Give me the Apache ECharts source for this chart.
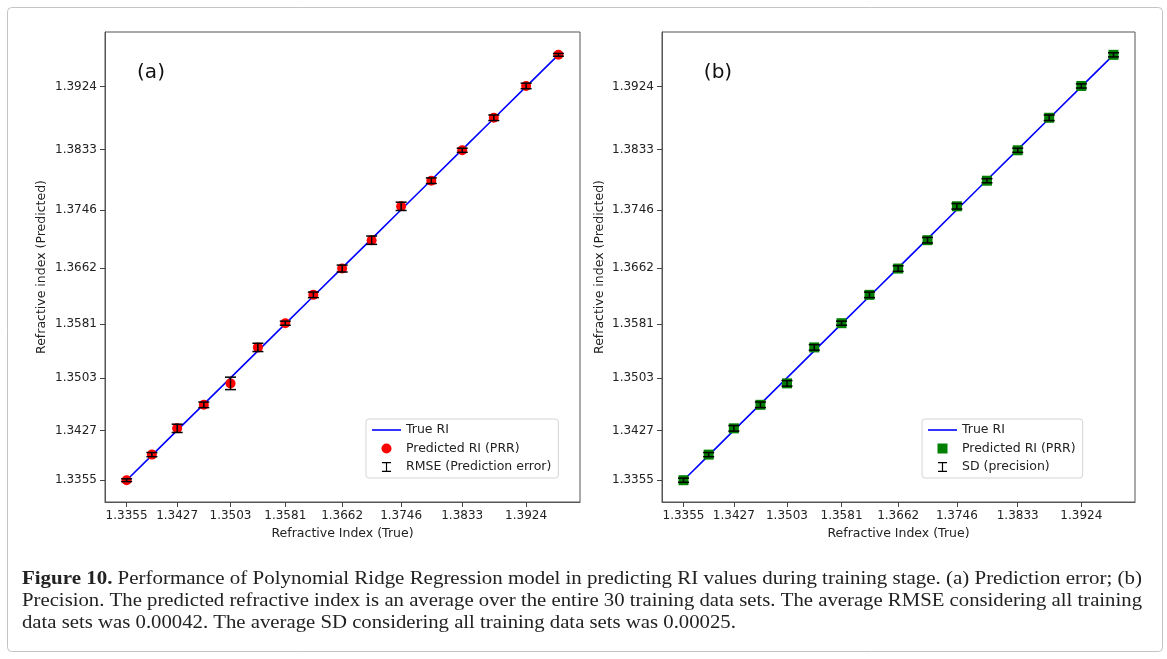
<!DOCTYPE html>
<html>
<head>
<meta charset="utf-8">
<title>Figure 10</title>
<script src="https://cdn.jsdelivr.net/npm/echarts@6/dist/echarts.min.js"></script>
<style>
  html, body { margin: 0; padding: 0; background: #fff; }
  #chart { width: 1167px; height: 659px; }
</style>
</head>
<body>
<div id="chart"></div>
<script>
// tick values used on both axes of both panels
const tickValues = [1.3355, 1.3427, 1.3503, 1.3581, 1.3662, 1.3746, 1.3833, 1.3924];

// true refractive index of the 16 training samples
const trueRI = [1.3355, 1.3391, 1.3427, 1.3465, 1.3503, 1.3542, 1.3581, 1.3621,
                1.3662, 1.3704, 1.3746, 1.3789, 1.3833, 1.3878, 1.3924, 1.3970];
// mean predicted RI (PRR), same in both panels
const predictedRI = [1.3355, 1.3392, 1.3430, 1.3464, 1.3495, 1.3547, 1.3582, 1.3623,
                     1.3661, 1.3702, 1.3751, 1.3788, 1.3832, 1.3879, 1.3925, 1.3970];
// panel (a): RMSE (prediction error)
const rmse = [0.0002, 0.0003, 0.0006, 0.0004, 0.0009, 0.0006, 0.0003, 0.0004,
              0.0005, 0.0006, 0.0006, 0.0004, 0.0003, 0.0004, 0.0004, 0.0002];
// panel (b): SD (precision)
const sd = [0.0003, 0.0003, 0.0004, 0.0004, 0.0004, 0.0004, 0.0003, 0.0004,
            0.0004, 0.0004, 0.0004, 0.0003, 0.0003, 0.0004, 0.0003, 0.0003];

const captionBold = "Figure 10.";
const captionLines = [
  " Performance of Polynomial Ridge Regression model in predicting RI values during training stage. (a) Prediction error; (b)",
  "Precision. The predicted refractive index is an average over the entire 30 training data sets. The average RMSE considering all training",
  "data sets was 0.00042. The average SD considering all training data sets was 0.00025."
];

const FONT = "DejaVu Sans";
const SERIF = "Liberation Serif";
const chart = echarts.init(document.getElementById("chart"));

const lineIcon = "path://M0,0h29v1.6h-29z";
const errorIcon = "path://M0,0h10v1.3h-10z M4.35,0h1.3v11h-1.3z M0,9.7h10v1.3h-10z";
const squareIcon = "path://M0,0h10v10h-10z";

const makeXAxis = (gridIndex) => ({
  type: "value",
  gridIndex,
  min: 1.332425,
  max: 1.400075,
  name: "Refractive Index (True)",
  nameLocation: "middle",
  nameGap: 24,
  nameTextStyle: { fontFamily: FONT, fontSize: 12.5, color: "#222" },
  axisLine: { show: true, onZero: false, lineStyle: { color: "#555", width: 1 } },
  axisTick: { show: true, length: 5, customValues: tickValues, lineStyle: { color: "#444" } },
  axisLabel: {
    customValues: tickValues,
    formatter: (v) => v.toFixed(4),
    fontFamily: FONT, fontSize: 12, color: "#222", margin: 8,
  },
  splitLine: { show: false },
});

const makeYAxis = (gridIndex, nameGap) => ({
  type: "value",
  gridIndex,
  min: 1.33235,
  max: 1.4003,
  name: "Refractive index (Predicted)",
  nameLocation: "middle",
  nameGap,
  nameTextStyle: { fontFamily: FONT, fontSize: 12.5, color: "#222" },
  axisLine: { show: true, onZero: false, lineStyle: { color: "#555", width: 1 } },
  axisTick: { show: true, length: 5, customValues: tickValues, lineStyle: { color: "#444" } },
  axisLabel: {
    customValues: tickValues,
    formatter: (v) => v.toFixed(4),
    fontFamily: FONT, fontSize: 12, color: "#222", margin: 8,
  },
  splitLine: { show: false },
});

const errorBars = (name, errors, axisIndex) => ({
  type: "custom",
  name,
  xAxisIndex: axisIndex,
  yAxisIndex: axisIndex,
  z: 4,
  silent: true,
  itemStyle: { color: "#000" },
  encode: { x: 0, y: 1 },
  data: trueRI.map((x, i) => [x, predictedRI[i], errors[i]]),
  renderItem: (params, api) => {
    const x = api.value(0);
    const y = api.value(1);
    const e = api.value(2);
    const top = api.coord([x, y + e]);
    const bottom = api.coord([x, y - e]);
    const cap = 5.5;
    const style = { stroke: "#000", lineWidth: 1.5 };
    return {
      type: "group",
      children: [
        { type: "line", shape: { x1: top[0], y1: top[1], x2: bottom[0], y2: bottom[1] }, style },
        { type: "line", shape: { x1: top[0] - cap, y1: top[1], x2: top[0] + cap, y2: top[1] }, style },
        { type: "line", shape: { x1: bottom[0] - cap, y1: bottom[1], x2: bottom[0] + cap, y2: bottom[1] }, style },
      ],
    };
  },
});

const makeLegend = (left, markerIcon, markerColor, errorName) => ({
  orient: "vertical",
  left,
  top: 419,
  itemWidth: 29,
  itemHeight: 10,
  itemGap: 4.5,
  padding: [4, 7, 4, 6],
  backgroundColor: "#fff",
  borderColor: "#d4d4d4",
  borderWidth: 1,
  borderRadius: 3,
  selectedMode: false,
  textStyle: { fontFamily: FONT, fontSize: 12.5, color: "#222", lineHeight: 14 },
  data: [
    { name: "True RI", icon: lineIcon, itemStyle: { color: "#0000ff" } },
    { name: "Predicted RI (PRR)", icon: markerIcon, itemStyle: { color: markerColor } },
    { name: errorName, icon: errorIcon, itemStyle: { color: "#000" } },
  ],
});

// caption: stretch lines 1 and 2 to the justified width of the original
const ctx = document.createElement("canvas").getContext("2d");
const capSize = 18;
const measure = (text, weight) => {
  ctx.font = `${weight} ${capSize}px "${SERIF}"`;
  return ctx.measureText(text).width;
};
const capLeft = 22;
const capRight = 1142;
const scale1 = (capRight - capLeft) / (measure(captionBold, "bold") + measure(captionLines[0], "normal"));
const scale2 = (capRight - capLeft) / measure(captionLines[1], "normal");
const capYs = [579, 601, 623];

const captionText = (text, y, scaleX) => ({
  type: "text",
  x: capLeft,
  y,
  scaleX,
  style: {
    text,
    fontFamily: SERIF,
    fontSize: capSize,
    fill: "#222",
    verticalAlign: "middle",
    rich: { b: { fontFamily: SERIF, fontSize: capSize, fontWeight: "bold", fill: "#222" } },
  },
});

const option = {
  animation: false,
  backgroundColor: "#fff",
  grid: [
    { left: 105, top: 32, width: 475, height: 470, show: true, borderColor: "#555", borderWidth: 1, outerBoundsMode: "none" },
    { left: 662, top: 32, width: 473, height: 470, show: true, borderColor: "#555", borderWidth: 1, outerBoundsMode: "none" },
  ],
  xAxis: [makeXAxis(0), makeXAxis(1)],
  yAxis: [makeYAxis(0, 57), makeYAxis(1, 56)],
  legend: [
    makeLegend(366, "circle", "#ff0000", "RMSE (Prediction error)"),
    makeLegend(922, squareIcon, "#008000", "SD (precision)"),
  ],
  series: [
    {
      type: "line", name: "True RI", xAxisIndex: 0, yAxisIndex: 0, z: 2, silent: true,
      symbol: "none", lineStyle: { color: "#0000ff", width: 1.6 }, itemStyle: { color: "#0000ff" },
      data: trueRI.map((v) => [v, v]),
    },
    {
      type: "scatter", name: "Predicted RI (PRR)", xAxisIndex: 0, yAxisIndex: 0, z: 3, silent: true,
      symbol: "circle", symbolSize: 10, itemStyle: { color: "#ff0000", opacity: 1 },
      data: trueRI.map((v, i) => [v, predictedRI[i]]),
    },
    errorBars("RMSE (Prediction error)", rmse, 0),
    {
      type: "line", name: "True RI", xAxisIndex: 1, yAxisIndex: 1, z: 2, silent: true,
      symbol: "none", lineStyle: { color: "#0000ff", width: 1.6 }, itemStyle: { color: "#0000ff" },
      data: trueRI.map((v) => [v, v]),
    },
    {
      type: "scatter", name: "Predicted RI (PRR)", xAxisIndex: 1, yAxisIndex: 1, z: 3, silent: true,
      symbol: "rect", symbolSize: 10, itemStyle: { color: "#008000", opacity: 1 },
      data: trueRI.map((v, i) => [v, predictedRI[i]]),
    },
    errorBars("SD (precision)", sd, 1),
  ],
  graphic: [
    {
      type: "rect", silent: true, z: -10,
      shape: { x: 7.5, y: 7.5, width: 1155, height: 644, r: 4 },
      style: { fill: "none", stroke: "#c4c4c4", lineWidth: 1 },
    },
    {
      type: "text", x: 151, y: 73,
      style: { text: "(a)", fontFamily: FONT, fontSize: 20, fill: "#111", align: "center", verticalAlign: "middle" },
    },
    {
      type: "text", x: 718, y: 73,
      style: { text: "(b)", fontFamily: FONT, fontSize: 20, fill: "#111", align: "center", verticalAlign: "middle" },
    },
    captionText(`{b|${captionBold}}${captionLines[0]}`, capYs[0], scale1),
    captionText(captionLines[1], capYs[1], scale2),
    captionText(captionLines[2], capYs[2], scale2),
  ],
};

chart.setOption(option);
</script>
</body>
</html>
